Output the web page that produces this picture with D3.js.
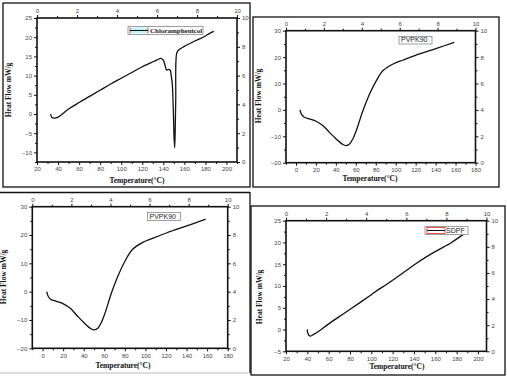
<!DOCTYPE html>
<html><head><meta charset="utf-8">
<script src="https://cdn.jsdelivr.net/npm/d3@7"></script>
<style>
html,body{margin:0;padding:0;background:#fff;}
svg{display:block;}
.tl{font-family:Arial,"Liberation Sans",sans-serif;font-size:6px;fill:#444;}
.ttl{font-family:"Liberation Serif","Times New Roman",serif;font-weight:bold;font-size:7.5px;fill:#111;}
</style></head>
<body>
<svg id="c" width="507" height="376"></svg>
<script>
// ---- data ----
const chlorTemp = [33, 34, 37, 40, 50, 60, 70, 80, 90, 100, 110, 120, 128, 134, 137.8, 140, 141.6, 143.2, 144.5, 146.5, 147.5, 148.5, 149.5, 150.2, 150.8, 151.3, 151.8, 152.7, 154.3, 160, 170, 180, 184, 188];
const chlorHeat = [0, -0.9, -1.05, -0.8, 1.3, 3.0, 4.6, 6.2, 7.8, 9.3, 10.8, 12.3, 13.3, 14.1, 14.5, 14.0, 12.7, 11.4, 11.6, 11.4, 10.0, 7.9, 0.9, -6, -8.8, -4, 3.5, 15.8, 16.6, 17.6, 19.0, 20.3, 21.0, 21.5];

const pvpTemp = [4, 5.7, 8.4, 13.4, 20.2, 26.9, 33.6, 40.3, 47, 50.4, 53.7, 57, 60.5, 67.1, 73.9, 80.6, 87.3, 97.4, 107.5, 121, 141, 158.6];
const pvpHeat = [0, -1.8, -2.8, -3.4, -4.3, -5.9, -8.5, -11, -13.1, -13.5, -12.9, -11, -7.8, -0.3, 6.1, 11.1, 14.9, 17.4, 18.9, 20.8, 23.3, 25.6];

const sdpfTemp = [40, 40.3, 41.5, 43, 46, 50, 60, 75, 90, 100, 108, 112, 125, 141, 155, 168, 172, 177, 186];
const sdpfHeat = [0, -0.7, -1.3, -1.5, -1.1, -0.5, 1.3, 3.8, 6.3, 8.0, 9.4, 10.0, 12.2, 15.0, 17.2, 19.0, 19.5, 20.3, 21.8];

const xTicksA = [20, 40, 60, 80, 100, 120, 140, 160, 180, 200];
const xTicksB = [0, 20, 40, 60, 80, 100, 120, 140, 160, 180];
const yTicksChlor = [-10, -5, 0, 5, 10, 15, 20, 25];
const yTicksPvp = [-20, -10, 0, 10, 20, 30];
const yTicksSdpf = [-5, 0, 5, 10, 15, 20, 25];
const secTicks = [0, 2, 4, 6, 8, 10];

const xTitle = "Temperature(\u00B0C)";
const yTitle = "Heat Flow mW/g";

const svg = d3.select("#c");

// ---- frames ----
function frameLine(x1,y1,x2,y2,col,w){
  svg.append("line").attr("x1",x1).attr("y1",y1).attr("x2",x2).attr("y2",y2)
    .attr("stroke",col).attr("stroke-width",w);
}
svg.append("rect").attr("x",3).attr("y",3).attr("width",247).attr("height",184)
  .attr("fill","none").attr("stroke","#111").attr("stroke-width",1.3);
svg.append("rect").attr("x",253).attr("y",17).attr("width",246).attr("height",170)
  .attr("fill","none").attr("stroke","#111").attr("stroke-width",1.3);
frameLine(0,192.5,250,192.5,"#111",1.3);
frameLine(250,192,250,373,"#111",1.3);
frameLine(0,373,250,373,"#bbb",1);
svg.append("rect").attr("x",251).attr("y",206).attr("width",254).attr("height",169)
  .attr("fill","none").attr("stroke","#111").attr("stroke-width",1.3);

function range(a,b,s){const r=[];for(let v=a;v<=b+1e-9;v+=s)r.push(+v.toFixed(4));return r;}

function panel(o){
  const g = svg.append("g");
  const x = d3.scaleLinear().domain(o.xDom).range([o.x0,o.x1]);
  const y = d3.scaleLinear().domain(o.yDom).range([o.y1,o.y0]);
  const xs = d3.scaleLinear().domain([0,10]).range([o.x0,o.x1]);
  const ys = d3.scaleLinear().domain([0,10]).range([o.y1,o.y0]);

  function ax(gen, tx, ty, vals, minor, size, lbl){
    const a = g.append("g").attr("transform",`translate(${tx},${ty})`);
    a.call(gen.tickValues(minor).tickSize(2).tickFormat(""));
    const b = g.append("g").attr("transform",`translate(${tx},${ty})`);
    b.call(gen.tickValues(vals).tickSize(size).tickPadding(lbl).tickFormat(d3.format("d")));
    [a,b].forEach(s=>{
      s.select(".domain").remove();
      s.selectAll(".tick line").attr("stroke","#111").attr("stroke-width",1);
      s.selectAll("text").attr("class","tl").attr("font-size",null).attr("font-family",null).attr("fill",null);
    });
  }
  const minX = range(o.xDom[0]+o.xMinorStart, o.xDom[1], o.xMinor).filter(v=>!o.xTicks.includes(v));
  const minY = range(o.yMinorStart, o.yDom[1], o.yMinor).filter(v=>!o.yTicks.includes(v) && v>=o.yDom[0]);
  ax(d3.axisBottom(x), 0, o.y1, o.xTicks, minX, 3, 2);
  ax(d3.axisLeft(y), o.x0, 0, o.yTicks, minY, 3, 2);
  ax(d3.axisTop(xs), 0, o.y0, secTicks, [1,3,5,7,9], 3, 2);
  ax(d3.axisRight(ys), o.x1, 0, secTicks, [1,3,5,7,9], 3, 2);

  // plot frame
  g.append("rect").attr("x",o.x0).attr("y",o.y0).attr("width",o.x1-o.x0).attr("height",o.y1-o.y0)
    .attr("fill","none").attr("stroke","#111").attr("stroke-width",1.6);

  // curve
  const pts = o.tx.map((t,i)=>[t,o.hy[i]]);
  g.append("path").datum(pts)
    .attr("d", d3.line().x(d=>x(d[0])).y(d=>y(d[1])).curve(d3.curveMonotoneX ? d3.curveCatmullRom.alpha(0.5) : d3.curveLinear))
    .attr("fill","none").attr("stroke","#111").attr("stroke-width",1.3).attr("stroke-linejoin","round");

  // titles
  g.append("text").attr("class","ttl").attr("x",o.xt[0]).attr("y",o.xt[1]).attr("text-anchor","middle").text(xTitle);
  g.append("text").attr("class","ttl").attr("transform",`translate(${o.yt[0]},${o.yt[1]}) rotate(-90)`)
    .attr("text-anchor","middle").attr("font-size","7px").text(yTitle);

  // legend
  const L = o.leg;
  g.append("rect").attr("x",L.x).attr("y",L.y).attr("width",L.w).attr("height",L.h)
    .attr("fill","#fff").attr("stroke","#888").attr("stroke-width",0.8);
  if (L.sample === "cyan") {
    g.append("rect").attr("x",L.x+2).attr("y",L.y+1).attr("width",18).attr("height",L.h-2).attr("fill","#bff4fb");
    g.append("line").attr("x1",L.x+2).attr("x2",L.x+2).attr("y1",L.y+1).attr("y2",L.y+L.h-1).attr("stroke","#d22").attr("stroke-width",0.8);
    g.append("line").attr("x1",L.x+20).attr("x2",L.x+20).attr("y1",L.y+1).attr("y2",L.y+L.h-1).attr("stroke","#d22").attr("stroke-width",0.8);
    g.append("line").attr("x1",L.x+2).attr("x2",L.x+20).attr("y1",L.y+L.h/2).attr("y2",L.y+L.h/2).attr("stroke","#111").attr("stroke-width",1);
  } else if (L.sample === "red") {
    g.append("rect").attr("x",L.x+2).attr("y",L.y+1).attr("width",18).attr("height",L.h-2).attr("fill","none").attr("stroke","#e22").attr("stroke-width",0.8);
    g.append("line").attr("x1",L.x+2).attr("x2",L.x+20).attr("y1",L.y+L.h/2).attr("y2",L.y+L.h/2).attr("stroke","#111").attr("stroke-width",1);
  }
  g.append("text").attr("x",L.tx).attr("y",L.y+L.h-1.6)
    .attr("font-family", L.bold ? "'Liberation Serif',serif" : "Arial,'Liberation Sans',sans-serif")
    .attr("font-weight", L.bold ? "bold" : "normal")
    .attr("font-size", L.fs).attr("fill","#222").text(L.text);
}

panel({x0:37,x1:237,y0:18,y1:162, xDom:[20,210], yDom:[-12.5,25],
  xTicks:xTicksA, yTicks:yTicksChlor, xMinor:10, xMinorStart:0, yMinor:2.5, yMinorStart:-12.5,
  tx:chlorTemp, hy:chlorHeat, xt:[137,183], yt:[11,90],
  leg:{x:128,y:26.5,w:75,h:8,sample:"cyan",tx:150,text:"Chloramphenicol",bold:true,fs:"7px"}});

panel({x0:286,x1:475.5,y0:30.7,y1:162.7, xDom:[-10,180], yDom:[-20,30],
  xTicks:xTicksB, yTicks:yTicksPvp, xMinor:10, xMinorStart:0, yMinor:5, yMinorStart:-20,
  tx:pvpTemp, hy:pvpHeat, xt:[370,181], yt:[261,96],
  leg:{x:399,y:36.5,w:33,h:7.5,sample:"none",tx:401,text:"PVPK90",bold:false,fs:"7px"}});

panel({x0:32.3,x1:227.7,y0:206.7,y1:348.3, xDom:[-10,180], yDom:[-20,30],
  xTicks:xTicksB, yTicks:yTicksPvp, xMinor:10, xMinorStart:0, yMinor:5, yMinorStart:-20,
  tx:pvpTemp, hy:pvpHeat, xt:[123,368], yt:[6,277],
  leg:{x:147.5,y:212.5,w:33,h:8,sample:"none",tx:149.5,text:"PVPK90",bold:false,fs:"7px"}});

panel({x0:286,x1:486.5,y0:220.7,y1:351.3, xDom:[20,208], yDom:[-5,25],
  xTicks:xTicksA, yTicks:yTicksSdpf, xMinor:10, xMinorStart:0, yMinor:2.5, yMinorStart:-5,
  tx:sdpfTemp, hy:sdpfHeat, xt:[397,369], yt:[262,297],
  leg:{x:425,y:226.5,w:43,h:8,sample:"red",tx:446,text:"SDPF",bold:false,fs:"7px"}});
</script>
</body></html>
